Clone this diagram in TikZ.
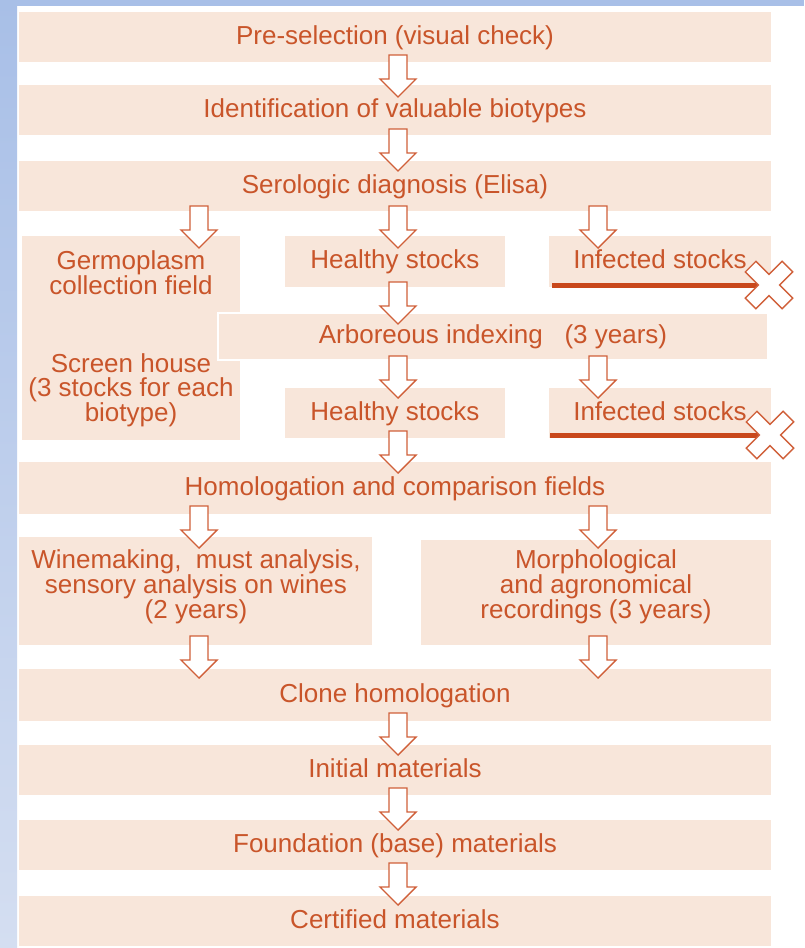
\documentclass[tikz,border=0pt]{standalone}
\usepackage{fontspec}
\setmainfont{Liberation Sans}
\definecolor{boxfill}{HTML}{F8E6DA}
\definecolor{txtcol}{HTML}{C9552A}
\definecolor{arrcol}{HTML}{D0603A}
\definecolor{redline}{HTML}{C9481B}
\definecolor{bluetop}{HTML}{A8BFE7}
\definecolor{bluebot}{HTML}{D4DEF1}
\newcommand\barrow[2]{\draw[barrowsty] (#1-9,#2) -- (#1+9,#2) -- (#1+9,#2+24) -- (#1+18,#2+24) -- (#1,#2+42) -- (#1-18,#2+24) -- (#1-9,#2+24) -- cycle;}
\newcommand\xmark[2]{\begin{scope}[shift={(#1,#2)},rotate=45]
\draw[xsty] (7.5,7.5) -- (26,7.5) -- (26,-7.5) -- (7.5,-7.5) -- (7.5,-26) -- (-7.5,-26) -- (-7.5,-7.5) -- (-26,-7.5) -- (-26,7.5) -- (-7.5,7.5) -- (-7.5,26) -- (7.5,26) -- cycle;
\end{scope}}
\begin{document}
\begin{tikzpicture}[x=1pt,y=-1pt,
  box/.style={fill=boxfill, draw=none, inner sep=0pt, text=txtcol,
    font=\fontsize{26}{24}\selectfont, text height=19pt, text depth=5pt},
  area/.style={fill=boxfill, draw=none, inner sep=0pt},
  txt/.style={text=txtcol, font=\fontsize{26}{24}\selectfont, align=center, inner sep=0pt},
  barrowsty/.style={fill=white, draw=arrcol, line width=1.4pt, line join=miter},
  xsty/.style={fill=white, draw=arrcol, line width=1.4pt, line join=miter},
  redsty/.style={draw=redline, line width=5pt}]
\useasboundingbox (0,0) rectangle (804,948);
% background
\fill[white] (0,0) rectangle (804,948);
\shade[top color=bluetop, bottom color=bluebot] (0,0) rectangle (17,948);
\fill[bluetop] (0,0) rectangle (804,6);
% boxes
\node[box, minimum width=752pt, minimum height=50pt] (b1) at (395,37) {Pre-selection (visual check)};
\node[box, minimum width=752pt, minimum height=50pt] (b2) at (395,110) {Identification of valuable biotypes};
\node[box, minimum width=752pt, minimum height=50pt] (b3) at (395,186) {Serologic diagnosis (Elisa)};
\node[area, minimum width=218pt, minimum height=204pt] (germ) at (131,338) {};
\node[box, minimum width=220pt, minimum height=51pt] (h1) at (395,261.5) {Healthy stocks};
\node[box, minimum width=222pt, minimum height=51pt] (i1) at (660,261.5) {Infected stocks};
\node[box, draw=white, line width=2pt, minimum width=550pt, minimum height=47pt] (arb) at (493,336.5) {Arboreous indexing\ \ \ (3 years)};
\node[box, minimum width=220pt, minimum height=50pt] (h2) at (395,413) {Healthy stocks};
\node[box, minimum width=222pt, minimum height=50pt] (i2) at (660,413) {Infected stocks};
\node[box, minimum width=752pt, minimum height=52pt] (hom) at (395,488) {Homologation and comparison fields};
\node[area, minimum width=353pt, minimum height=108pt] (wine) at (195.5,591) {};
\node[area, minimum width=350pt, minimum height=105pt] (morph) at (596,592.5) {};
\node[box, minimum width=752pt, minimum height=52pt] (clone) at (395,695) {Clone homologation};
\node[box, minimum width=752pt, minimum height=50pt] (init) at (395,770) {Initial materials};
\node[box, minimum width=752pt, minimum height=50pt] (found) at (395,845) {Foundation (base) materials};
\node[box, minimum width=752pt, minimum height=50pt] (cert) at (395,921) {Certified materials};
% multi-line texts
\node[txt] (germt1) at (131,272.5) {Germoplasm\\collection field};
\node[txt] (germt2) at (131,390) {Screen house\\(3 stocks for each\\biotype)};
\node[txt] (winet) at (196,587) {Winemaking,\ \ must analysis,\\sensory analysis on wines\\(2 years)};
\node[txt] (morpht) at (596,587) {Morphological\\and agronomical\\recordings (3 years)};
% block arrows
\barrow{398}{55}
\barrow{398}{129}
\barrow{199}{206}
\barrow{398}{206}
\barrow{598}{206}
\barrow{398}{282}
\barrow{398}{356}
\barrow{598}{356}
\barrow{398}{431}
\barrow{199}{506}
\barrow{598}{506}
\barrow{199}{636}
\barrow{598}{636}
\barrow{398}{713}
\barrow{398}{788}
\barrow{398}{863}
% rejection lines
\coordinate (x1) at (769,285);
\coordinate (x2) at (770,435);
\coordinate (r1) at (552,285);
\coordinate (r2) at (550,435);
\draw[redsty] (r1) -- (x1);
\draw[redsty] (r2) -- (x2);
\xmark{769}{285}
\xmark{770}{435}
\end{tikzpicture}
\end{document}
